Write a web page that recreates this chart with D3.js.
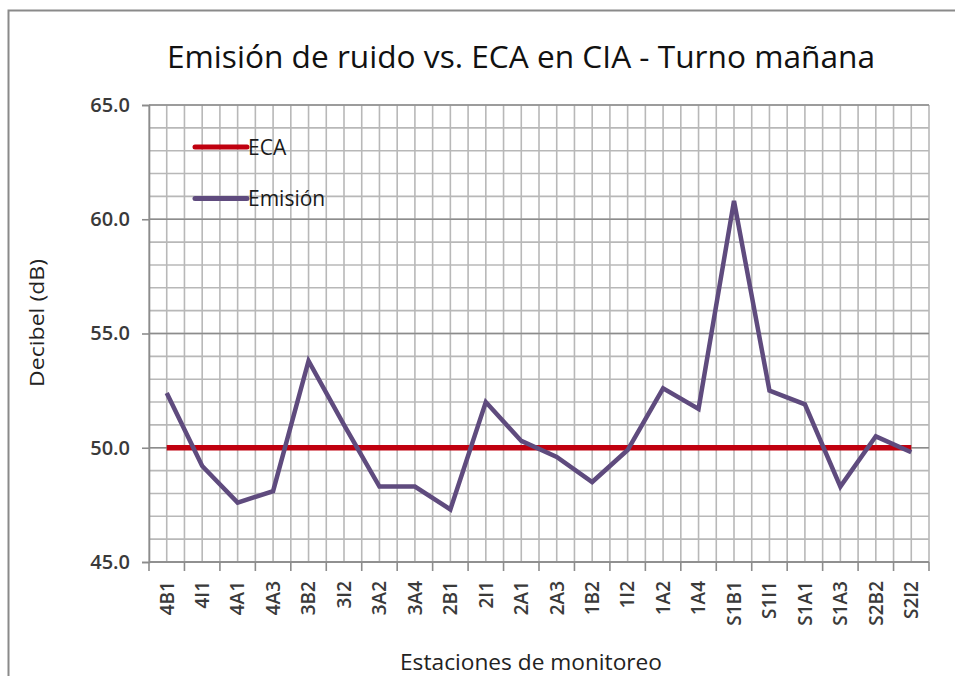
<!DOCTYPE html>
<html>
<head>
<meta charset="utf-8">
<script src="https://cdn.jsdelivr.net/npm/d3@7"></script>
<style>
  html, body { margin: 0; padding: 0; background: #fff; }
  svg { display: block; }
  text { font-family: "Open Sans", "DejaVu Sans", sans-serif; }
</style>
</head>
<body>
<svg id="chart" width="955" height="676"></svg>
<script>
const categories = ["4B1","4I1","4A1","4A3","3B2","3I2","3A2","3A4","2B1","2I1","2A1","2A3","1B2","1I2","1A2","1A4","S1B1","S1I1","S1A1","S1A3","S2B2","S2I2"];
const emision = [52.4, 49.2, 47.6, 48.1, 53.8, 51.0, 48.3, 48.3, 47.3, 52.0, 50.3, 49.6, 48.5, 49.9, 52.6, 51.7, 60.8, 52.5, 51.9, 48.3, 50.5, 49.8];
const eca = categories.map(() => 50.0);
const yTicks = [45, 50, 55, 60, 65];
const seriesNames = ["ECA", "Emisión"];
const seriesColors = ["#C0000F", "#5F4B7E"];
const titleText = "Emisión de ruido vs. ECA en CIA - Turno mañana";
const yTitle = "Decibel (dB)";
const xTitle = "Estaciones de monitoreo";

const svg = d3.select("#chart");
const W = 955, H = 676;
const plot = { left: 149, right: 929, top: 105, bottom: 562 };

// outer frame
svg.append("rect")
  .attr("x", 8.5).attr("y", 10.5)
  .attr("width", W + 20).attr("height", H + 20)
  .attr("fill", "#fff").attr("stroke", "#8a8a8a").attr("stroke-width", 2);

const x = d3.scaleBand().domain(categories).range([plot.left, plot.right]).padding(0);
const y = d3.scaleLinear().domain([45, 65]).range([plot.bottom, plot.top]);
const bw = x.bandwidth();

// minor horizontal gridlines (every 1 dB)
const g = svg.append("g");
g.selectAll("line.hmin").data(d3.range(45, 66, 1)).join("line")
  .attr("x1", plot.left).attr("x2", plot.right)
  .attr("y1", d => y(d)).attr("y2", d => y(d))
  .attr("stroke", "#b8b8b8").attr("stroke-width", 1.6);

// vertical gridlines at band boundaries and centers
const vLines = [];
categories.forEach(c => { vLines.push(x(c)); vLines.push(x(c) + bw / 2); });
vLines.push(plot.right);
g.selectAll("line.v").data(vLines).join("line")
  .attr("x1", d => d).attr("x2", d => d)
  .attr("y1", plot.top).attr("y2", plot.bottom)
  .attr("stroke", "#b8b8b8").attr("stroke-width", 1.6);

// major horizontal gridlines
g.selectAll("line.hmaj").data(yTicks).join("line")
  .attr("x1", plot.left).attr("x2", plot.right)
  .attr("y1", d => y(d)).attr("y2", d => y(d))
  .attr("stroke", "#8c8c8c").attr("stroke-width", 1.6);

// Y axis
const yAxis = d3.axisLeft(y).tickValues(yTicks).tickSize(7).tickPadding(12).tickFormat(d3.format(".1f"));
const ya = svg.append("g").attr("transform", `translate(${plot.left},0)`).call(yAxis);
ya.select(".domain").attr("stroke", "#8c8c8c").attr("stroke-width", 1.6);
ya.selectAll(".tick line").attr("stroke", "#8c8c8c").attr("stroke-width", 1.6);
ya.selectAll(".tick text").attr("font-size", 20).attr("font-weight", 600)
  .attr("fill", "#3a3a3a").attr("font-family", "'Open Sans', sans-serif");

// X axis with ticks at band boundaries
const xa = svg.append("g").attr("transform", `translate(0,${plot.bottom})`);
const bounds = categories.map(c => x(c)).concat([plot.right]);
xa.append("line").attr("x1", plot.left).attr("x2", plot.right).attr("y1", 0).attr("y2", 0)
  .attr("stroke", "#8c8c8c").attr("stroke-width", 1.6);
xa.selectAll("line.tk").data(bounds).join("line")
  .attr("x1", d => d).attr("x2", d => d).attr("y1", 0).attr("y2", 9)
  .attr("stroke", "#8c8c8c").attr("stroke-width", 1.6);
xa.selectAll("text").data(categories).join("text")
  .attr("transform", d => `translate(${x(d) + bw / 2},19) rotate(-90)`)
  .attr("text-anchor", "end").attr("dy", "0.36em")
  .attr("font-size", 19).attr("font-weight", 600).attr("fill", "#3a3a3a")
  .text(d => d);

// Lines
const line = d3.line().x((d, i) => x(categories[i]) + bw / 2).y(d => y(d));
svg.append("path").datum(eca).attr("d", line)
  .attr("fill", "none").attr("stroke", seriesColors[0]).attr("stroke-width", 5.5);
svg.append("path").datum(emision).attr("d", line)
  .attr("fill", "none").attr("stroke", seriesColors[1]).attr("stroke-width", 4.5)
  .attr("stroke-linejoin", "miter");

// Legend
const lg = svg.append("g");
seriesNames.forEach((n, i) => {
  const ly = 147 + i * 51.5;
  lg.append("line").attr("x1", 195).attr("x2", 247).attr("y1", ly).attr("y2", ly)
    .attr("stroke", seriesColors[i]).attr("stroke-width", 5).attr("stroke-linecap", "round");
  lg.append("text").attr("x", 248).attr("y", ly).attr("dy", "0.36em")
    .attr("font-size", 21).attr("fill", "#1a1a1a").text(n);
});

// Title
svg.append("text").attr("x", 521).attr("y", 68).attr("text-anchor", "middle")
  .attr("font-size", 31).attr("fill", "#111")
  .attr("textLength", 708).attr("lengthAdjust", "spacingAndGlyphs")
  .text(titleText);

// Axis titles
svg.append("text").attr("transform", "translate(44,323) rotate(-90)")
  .attr("text-anchor", "middle").attr("font-size", 20).attr("fill", "#222")
  .attr("textLength", 128).attr("lengthAdjust", "spacingAndGlyphs")
  .text(yTitle);
svg.append("text").attr("x", 531).attr("y", 670).attr("text-anchor", "middle")
  .attr("font-size", 21).attr("fill", "#222")
  .attr("textLength", 262).attr("lengthAdjust", "spacingAndGlyphs")
  .text(xTitle);
</script>
</body>
</html>
